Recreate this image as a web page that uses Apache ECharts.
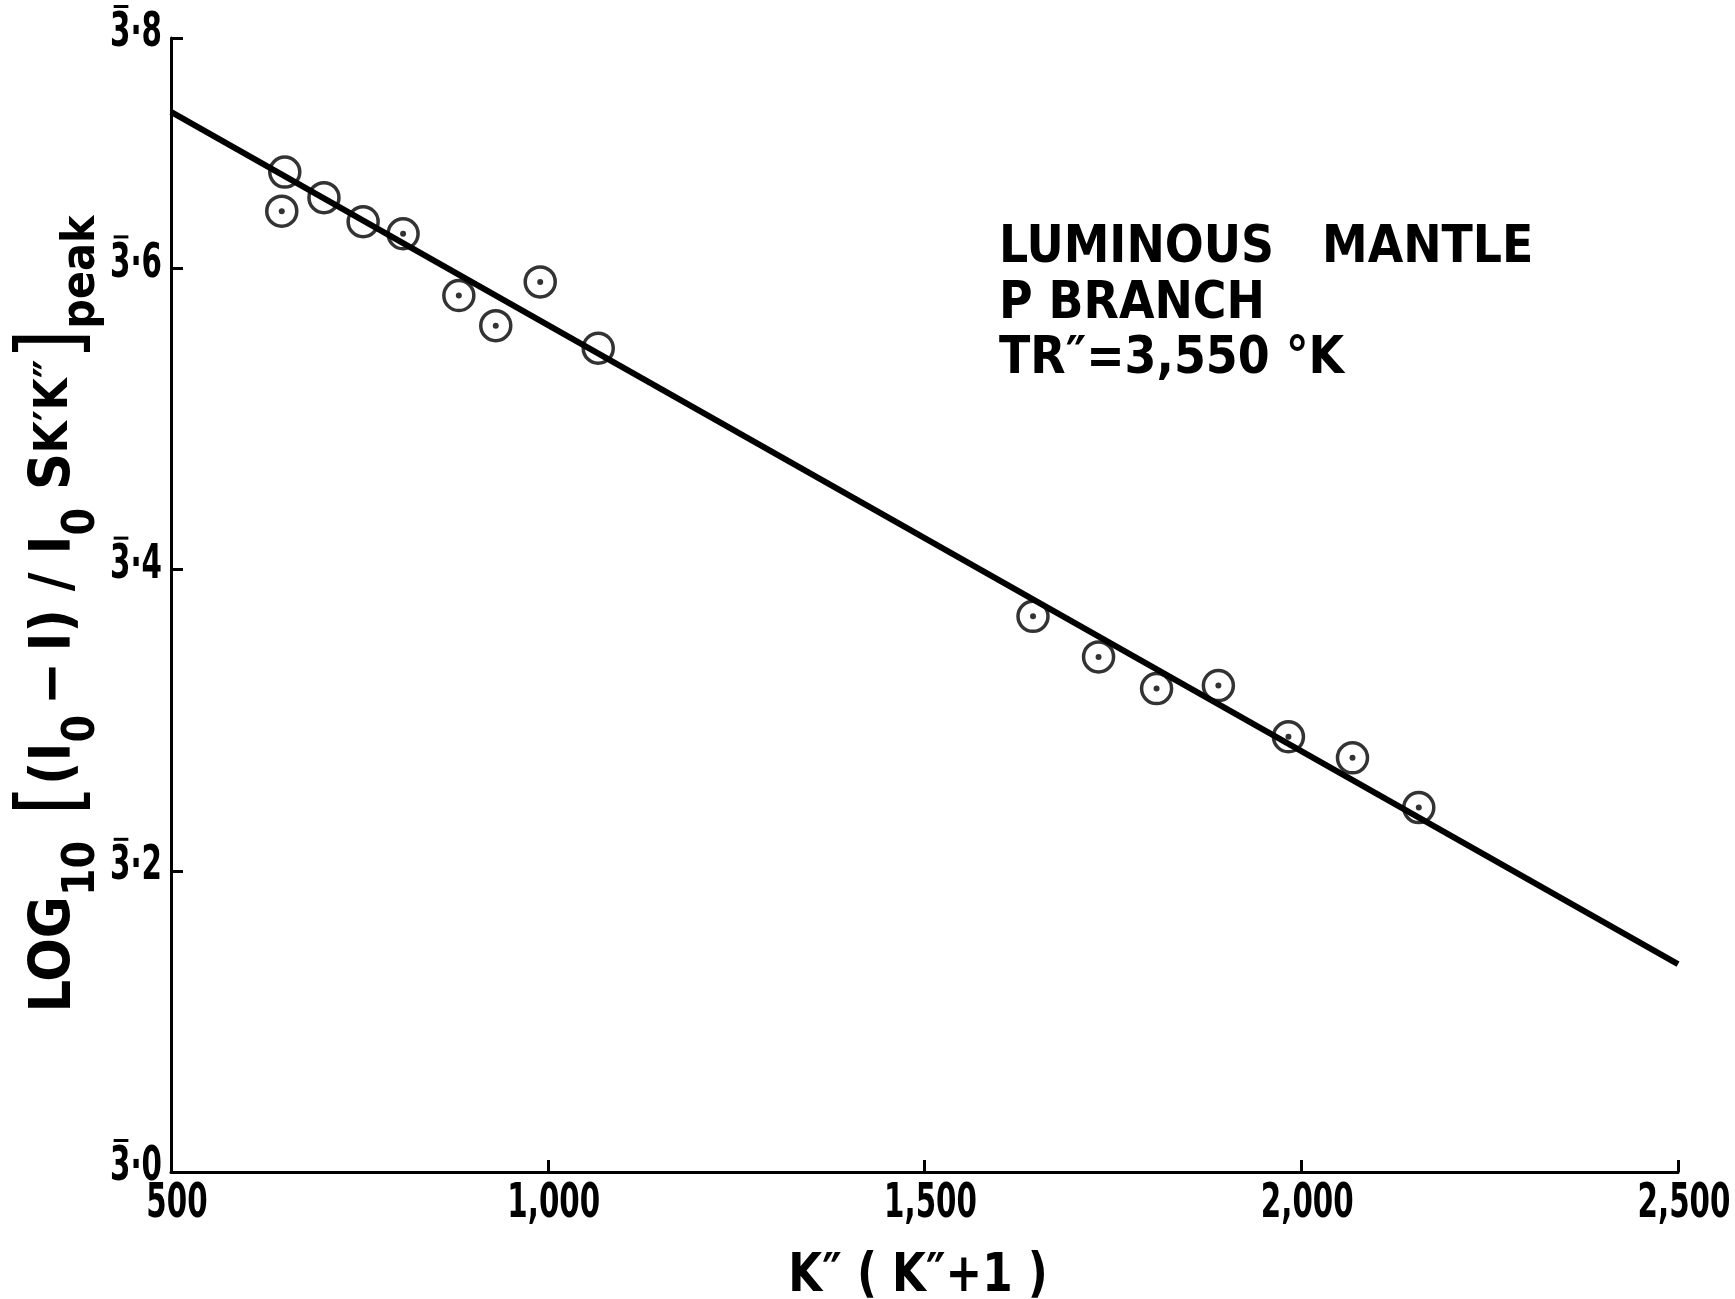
<!DOCTYPE html>
<html>
<head>
<meta charset="utf-8">
<script src="https://cdn.jsdelivr.net/npm/echarts@6/dist/echarts.min.js"></script>
<style>
  html, body { margin: 0; padding: 0; background: #fff; }
  #chart { width: 1735px; height: 1299px; }
</style>
</head>
<body>
<div id="chart"></div>
<script>
// K''(K''+1) against log10 of the normalised peak absorption, P branch
const openK   = [651, 703, 755, 1067];
const openLog = [3.664, 3.647, 3.631, 3.547];

const dotK   = [647, 808, 882, 931, 990, 1644, 1731, 1808, 1890, 1983, 2068, 2156];
const dotLog = [3.638, 3.623, 3.582, 3.562, 3.591, 3.369, 3.342, 3.321, 3.323, 3.289, 3.275, 3.242];

// fitted straight line
const fitK   = [500, 2500];
const fitLog = [3.704, 3.138];

// axis ticks and their lettering (bar-characteristic logs: the bar sits over the 3)
const xTicks      = [500, 1000, 1500, 2000, 2500];
const xTickLabels = ['500', '1,000', '1,500', '2,000', '2,500'];
const yMax        = 3.753;
const yTicks      = [3.0, 3.2, 3.4, 3.6, yMax];
const yTickLabels = ['3\u00b70', '3\u00b72', '3\u00b74', '3\u00b76', '3\u00b78'];

const noteLines = ['LUMINOUS   MANTLE', 'P BRANCH', 'TR\u2033=3,550 \u00b0K'];
const xTitle = 'K\u2033 ( K\u2033+1 )';
const yTitle = '{m|LOG}{s|10}{b| [}{m|(I}{s|0}{m|\u2009\u2212\u2009I) / I}{s|0}{m| S}{k|K\u2032K\u2033}{b|]}{p|peak}';

const pairs = (xs, ys) => xs.map((x, i) => [x, ys[i]]);

const FAMILY = '"DejaVu Sans Condensed", "DejaVu Sans", sans-serif';
const TICK_FONT = 'bold 48px ' + FAMILY;
const TICK_SX = 0.68;            // narrow stencil-style digits

const measureCtx = document.createElement('canvas').getContext('2d');
function textWidth(str, font) {
  measureCtx.font = font;
  return measureCtx.measureText(str).width;
}

const chart = echarts.init(document.getElementById('chart'), null, { renderer: 'canvas' });

const axisStyle = {
  splitLine: { show: false },
  axisLabel: { show: false },
  axisLine: { lineStyle: { color: '#000', width: 3 } },
  axisTick: { inside: true, length: 12, lineStyle: { color: '#000', width: 3 } }
};

chart.setOption({
  backgroundColor: '#ffffff',
  animation: false,
  grid: { left: 171, right: 57, top: 38, bottom: 127, containLabel: false, outerBoundsMode: 'none' },
  xAxis: Object.assign({ type: 'value', min: 500, max: 2500, interval: 500 }, axisStyle),
  yAxis: Object.assign({ type: 'value', min: 3.0, max: yMax, interval: 0.2 }, axisStyle),
  series: [
    {
      type: 'line',
      data: pairs(fitK, fitLog),
      showSymbol: false,
      symbol: 'none',
      lineStyle: { color: '#000', width: 6 },
      z: 3
    },
    {
      type: 'scatter',
      data: pairs(openK, openLog),
      symbol: 'circle',
      symbolSize: 30,
      itemStyle: { color: 'rgba(255,255,255,0)', borderColor: '#000', borderWidth: 3.5 },
      z: 4
    },
    {
      type: 'scatter',
      data: pairs(dotK, dotLog),
      symbol: 'circle',
      symbolSize: 30,
      itemStyle: { color: 'rgba(255,255,255,0)', borderColor: '#000', borderWidth: 3.5 },
      z: 4
    },
    {
      type: 'scatter',
      data: pairs(dotK, dotLog),
      symbol: 'circle',
      symbolSize: 6,
      itemStyle: { color: '#000' },
      z: 5
    }
  ]
});

// Lettering placed from the axis scales once the grid is laid out
const origin = chart.convertToPixel({ gridIndex: 0 }, [500, 3.0]);
const graphics = [];

xTicks.forEach((v, i) => {
  const p = chart.convertToPixel({ gridIndex: 0 }, [v, 3.0]);
  graphics.push({
    type: 'text',
    x: p[0] + 6, y: origin[1] + 33,
    scaleX: TICK_SX,
    style: { text: xTickLabels[i], font: TICK_FONT, fill: '#000', textAlign: 'center', textVerticalAlign: 'middle' }
  });
});

yTicks.forEach((v, i) => {
  const p = chart.convertToPixel({ gridIndex: 0 }, [500, v]);
  const label = yTickLabels[i];
  const w = textWidth(label, TICK_FONT) * TICK_SX;
  const w3 = textWidth(label.charAt(0), TICK_FONT) * TICK_SX;
  const right = origin[0] - 9;
  const cy = p[1] - 4;
  graphics.push({
    type: 'group',
    children: [
      {
        type: 'text',
        x: right, y: cy,
        scaleX: TICK_SX,
        style: { text: label, font: TICK_FONT, fill: '#000', textAlign: 'right', textVerticalAlign: 'middle' }
      },
      {
        type: 'rect',
        shape: { x: right - w + w3 * 0.18, y: cy - 29, width: w3 * 0.72, height: 3 },
        style: { fill: '#000' }
      }
    ]
  });
});

graphics.push({
  type: 'text',
  x: 918, y: 1277,
  scaleX: 0.9,
  style: { text: xTitle, font: 'bold 54px ' + FAMILY, fill: '#000', textAlign: 'center', textVerticalAlign: 'middle' }
});

graphics.push({
  type: 'text',
  x: 55, y: 614,
  rotation: Math.PI / 2,
  style: {
    text: yTitle,
    fill: '#000',
    textAlign: 'center',
    textVerticalAlign: 'middle',
    rich: {
      m: { fill: '#000', fontFamily: FAMILY, fontWeight: 'bold', fontSize: 57, lineHeight: 100, verticalAlign: 'middle' },
      s: { fill: '#000', fontFamily: FAMILY, fontWeight: 'bold', fontSize: 44, lineHeight: 66, verticalAlign: 'bottom' },
      k: { fill: '#000', fontFamily: FAMILY, fontWeight: 'bold', fontSize: 46, lineHeight: 100, verticalAlign: 'middle' },
      b: { fill: '#000', fontFamily: FAMILY, fontWeight: 'normal', fontSize: 88, lineHeight: 100, verticalAlign: 'middle' },
      p: { fill: '#000', fontFamily: FAMILY, fontWeight: 'bold', fontSize: 46, lineHeight: 48, verticalAlign: 'bottom' }
    }
  }
});

noteLines.forEach((t, i) => {
  graphics.push({
    type: 'text',
    x: 999,
    y: 249 + i * 55.5,
    style: {
      text: t,
      font: 'bold 51px ' + FAMILY,
      fill: '#000',
      textAlign: 'left',
      textVerticalAlign: 'middle'
    }
  });
});

chart.setOption({ graphic: graphics });
</script>
</body>
</html>
